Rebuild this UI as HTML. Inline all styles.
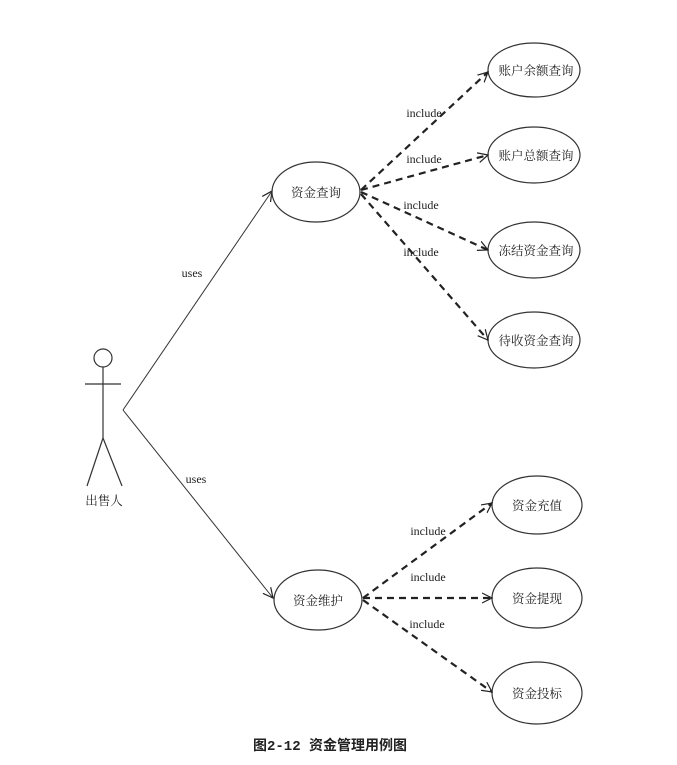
<!DOCTYPE html>
<html><head><meta charset="utf-8"><style>
body{margin:0;background:#fff}
svg{display:block}
text{font-family:"Liberation Serif","Noto Serif CJK SC",serif;fill:#222}
</style></head><body>
<svg width="677" height="765" viewBox="0 0 677 765" xmlns="http://www.w3.org/2000/svg">
<defs>
<marker id="a" markerWidth="12" markerHeight="12" refX="10" refY="6" orient="auto" markerUnits="userSpaceOnUse">
<path d="M0,1 L10,6 L0,11" fill="none" stroke="#222" stroke-width="1.2"/></marker>
</defs>
<g stroke="#333" fill="none" stroke-width="1.2">
<circle cx="103" cy="358" r="9"/>
<line x1="85" y1="384" x2="121" y2="384"/>
<line x1="103" y1="367" x2="103" y2="438"/>
<line x1="103" y1="438" x2="87" y2="486"/>
<line x1="103" y1="438" x2="122" y2="486"/>
<line x1="123" y1="410" x2="272" y2="191" marker-end="url(#a)" stroke-width="1"/>
<line x1="123" y1="410" x2="273" y2="598" marker-end="url(#a)" stroke-width="1"/>
<ellipse cx="316" cy="192" rx="44" ry="30"/>
<ellipse cx="318" cy="600" rx="44" ry="30"/>
<ellipse cx="534" cy="70" rx="46" ry="27"/>
<ellipse cx="534" cy="155" rx="46" ry="28"/>
<ellipse cx="534" cy="250" rx="46" ry="28"/>
<ellipse cx="534" cy="340" rx="46" ry="28"/>
<ellipse cx="537" cy="505" rx="45" ry="29"/>
<ellipse cx="537" cy="598" rx="45" ry="30"/>
<ellipse cx="537" cy="693" rx="45" ry="31"/>
</g>
<g stroke="#222" fill="none" stroke-width="2.2" stroke-dasharray="7,5">
<line x1="361" y1="190" x2="488" y2="72" marker-end="url(#a)"/>
<line x1="361" y1="190" x2="488" y2="155" marker-end="url(#a)"/>
<line x1="361" y1="192" x2="488" y2="250" marker-end="url(#a)"/>
<line x1="361" y1="194" x2="488" y2="340" marker-end="url(#a)"/>
<line x1="363" y1="598" x2="492" y2="503" marker-end="url(#a)"/>
<line x1="363" y1="598" x2="492" y2="598" marker-end="url(#a)"/>
<line x1="363" y1="600" x2="492" y2="692" marker-end="url(#a)"/>
</g>
<g font-size="12.5" text-anchor="middle">
<text x="316" y="197">资金查询</text>
<text x="318" y="605">资金维护</text>
<text x="536" y="75">账户余额查询</text>
<text x="536" y="160">账户总额查询</text>
<text x="536" y="255">冻结资金查询</text>
<text x="536" y="345">待收资金查询</text>
<text x="537" y="510">资金充值</text>
<text x="537" y="603">资金提现</text>
<text x="537" y="698">资金投标</text>
<text x="104" y="505">出售人</text>
</g>
<g font-size="12" text-anchor="middle">
<text x="192" y="277">uses</text>
<text x="196" y="483">uses</text>
<text x="424" y="117">include</text>
<text x="424" y="163">include</text>
<text x="421" y="209">include</text>
<text x="421" y="256">include</text>
<text x="428" y="535">include</text>
<text x="428" y="581">include</text>
<text x="427" y="628">include</text>
</g>
<text x="330" y="750" font-size="14" font-weight="bold" text-anchor="middle" style="font-family:'Liberation Mono','Noto Sans CJK SC',monospace">图2-12 资金管理用例图</text>
</svg>
</body></html>
